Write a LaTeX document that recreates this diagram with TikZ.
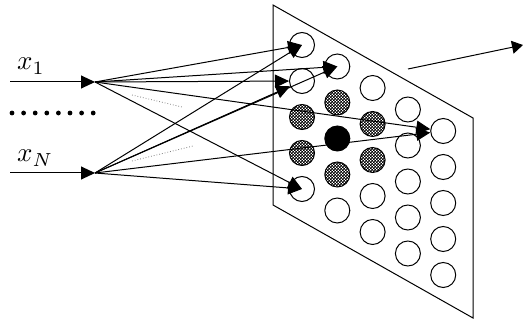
\documentclass[tikz,border=0pt]{standalone}
\usepackage{graphicx}
\usetikzlibrary{arrows.meta, patterns}

\pgfdeclarepatternformonly{cellchecks}{\pgfpointorigin}{\pgfpoint{2.8pt}{2.8pt}}{\pgfpoint{2.8pt}{2.8pt}}{
  \pgfpathrectangle{\pgfpointorigin}{\pgfpoint{1.6pt}{1.6pt}}
  \pgfpathrectangle{\pgfpoint{1.4pt}{1.4pt}}{\pgfpoint{1.6pt}{1.6pt}}
  \pgfusepath{fill}
}

\tikzset{
  cell/.style={circle, draw, line width=1pt, minimum size=25pt, inner sep=0pt},
  hatched/.style={pattern=cellchecks, pattern color=black},
  hub/.style={fill=black},
  cell 13/.style={hatched}, cell 14/.style={hatched},
  cell 22/.style={hatched}, cell 23/.style={hub}, cell 24/.style={hatched},
  cell 32/.style={hatched}, cell 33/.style={hatched},
  link/.style={line width=1pt, -{Triangle[length=14pt,width=13pt]}},
  inlabel/.style={anchor=base west, inner sep=0pt}
}

\begin{document}
\begin{tikzpicture}[x=1pt,y=-1pt]
\useasboundingbox (0,0) rectangle (524,320);
\def\dx{35.3}
\def\dy{36}
\def\sk{21.5}

\draw[line width=1pt] (273,5) -- (473,118) -- (473,318) -- (273,205) -- cycle;

\foreach \i in {1,...,5}
  \foreach \j in {1,...,5}
    \node[cell, cell \i\j/.try] (n\i\j) at ({302+\dx*(\i-1)},{45+\sk*(\i-1)+\dy*(\j-1)}) {};

\coordinate (s1) at (10,82);
\coordinate (p1) at (95,82);
\coordinate (sN) at (10,173);
\coordinate (pN) at (95,173);
\draw[link] (s1) -- (p1);
\draw[link] (sN) -- (pN);

\node[inlabel] (l1) at (17,70) {\scalebox{2.7}{$x_1$}};
\node[inlabel] (lN) at (17,162) {\scalebox{2.7}{$x_N$}};

\foreach \k in {0,...,7}
  \fill (12+11.6*\k,113) circle (2.4);

\foreach \t in {n11.center, n21.center, n12, n51, n15.center} {
  \draw[link] (p1) -- (\t);
  \draw[link] (pN) -- (\t);
}

\draw[dotted, gray, line width=0.8pt] (132,95) -- (182,107);
\draw[dotted, gray, line width=0.8pt] (132,161) -- (193,146);

\coordinate (o1) at (408,69);
\coordinate (o2) at (523,45);
\draw[line width=1pt, -{Triangle[length=11pt,width=13pt]}] (o1) -- (o2);
\end{tikzpicture}
\end{document}
